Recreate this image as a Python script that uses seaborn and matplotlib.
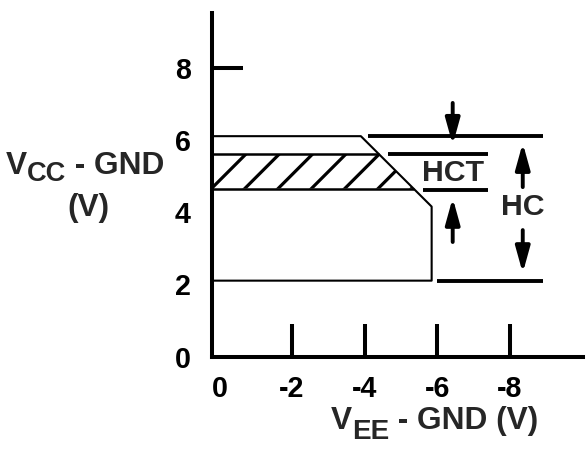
import numpy as np
import matplotlib
matplotlib.use("Agg")
import matplotlib.pyplot as plt
import seaborn as sns

# recommended operating area, V_EE - GND vs V_CC - GND
hc_vee = [0.21, -3.9, -5.85, -5.85, 0.21]
hc_vcc = [6.1, 6.1, 4.15, 2.1, 2.1]
hct_vcc = [5.6, 4.65]  # top / bottom of the hatched HCT band

# dimension lines on the right
hc_dim_vcc = [6.1, 2.1]
hc_dim_start = [-4.09, -6.0]
hc_dim_end = -8.92
hct_dim_vcc = [5.6, 4.6]
hct_dim_start = [-4.65, -5.61]
hct_dim_end = -7.4

# arrows: (x, y_tail, y_tip)
hct_arrows = [(-6.43, 7.02, 5.86), (-6.43, 3.17, 4.39)]
hc_arrows = [(-8.36, 4.69, 5.91), (-8.36, 3.5, 2.31)]

x_ticks = [0, -2, -4, -6, -8]
x_labels = ["0", "-2", "-4", "-6", "-8"]
y_ticks = [0, 2, 4, 6, 8]
y_labels = ["0", "2", "4", "6", "8"]

sns.set_theme(style="white")
plt.rcParams["font.family"] = ["Liberation Sans", "DejaVu Sans"]
plt.rcParams["font.weight"] = "bold"
plt.rcParams["hatch.linewidth"] = 1.15

DPI = 200
W, H = 588, 449
fs = 10.3
lfs = 11.4
fig = plt.figure(figsize=(W / DPI, H / DPI), dpi=DPI)
ax = fig.add_axes([211.7 / W, 92.5 / H, (583 - 211.7) / W, (356.5 - 13) / H])

x0 = hc_vee[0]
ax.set_xlim(x0, -10.02)
ax.set_ylim(0, 9.51)

# outline of the HC area
sns.lineplot(x=hc_vee, y=hc_vcc, sort=False, estimator=None, color="black",
             lw=0.75, ax=ax, legend=False)


def diag(v):
    return np.interp(v, [hc_vcc[2], hc_vcc[1]], [hc_vee[2], hc_vee[1]])


band = np.array(sorted(hct_vcc))
ax.fill_betweenx(band, x0, diag(band), facecolor="none", edgecolor="black",
                 hatch="//", linewidth=0)
ax.hlines(hct_vcc, x0, diag(np.array(hct_vcc)), color="black", lw=0.9)

# dimension lines
ax.hlines(hc_dim_vcc, hc_dim_start, hc_dim_end, color="black", lw=1.4)
ax.hlines(hct_dim_vcc, hct_dim_start, hct_dim_end, color="black", lw=1.4)
for x, y0, y1 in hct_arrows + hc_arrows:
    ax.annotate("", xy=(x, y1), xytext=(x, y0),
                arrowprops=dict(arrowstyle="-|>,head_length=0.65,head_width=0.18",
                                mutation_scale=12, lw=1.4, color="black",
                                shrinkA=0, shrinkB=0))

ax.text(-6.43, 5.08, "HCT", ha="center", va="center", fontsize=fs + 0.6, fontweight="bold")
ax.text(-8.36, 4.14, "HC", ha="center", va="center", fontsize=fs + 0.6, fontweight="bold")

# axes
sns.despine(ax=ax)
for s in ["left", "bottom"]:
    ax.spines[s].set_linewidth(1.45)
    ax.spines[s].set_color("black")

ax.set_xticks(x_ticks, x_labels)
ax.set_yticks(y_ticks, y_labels)
ax.set_xticks(x_ticks[1:], minor=True)
ax.set_yticks(y_ticks[-1:], minor=True)
ax.xaxis.remove_overlapping_locs = False
ax.yaxis.remove_overlapping_locs = False
ax.tick_params(axis="both", which="major", length=0, labelsize=fs, colors="black")
ax.tick_params(axis="x", which="major", pad=6.7)
ax.tick_params(axis="y", which="major", pad=7.5)
ax.tick_params(axis="x", which="minor", direction="in", length=11.9, width=1.45,
               color="black", bottom=True)
ax.tick_params(axis="y", which="minor", direction="in", length=11.3, width=1.45,
               color="black", left=True)
for lab in ax.get_xticklabels() + ax.get_yticklabels():
    lab.set_fontweight("bold")

renderer = fig.canvas.get_renderer()


def label(parts, left, base):
    # parts: (text, size, drop in px); placed left to right from pixel position
    x = left
    for txt, size, drop in parts:
        t = fig.text(x / W, (H - base - drop) / H, txt, ha="left", va="baseline",
                     fontsize=size, fontweight="bold")
        x += t.get_window_extent(renderer).width


label([("V", lfs, 0), ("CC", lfs * 0.86, 7), (" - GND", lfs, 0)], 6, 174)
fig.text(88 / W, (H - 216) / H, "(V)", ha="center", va="baseline",
         fontsize=lfs, fontweight="bold")
label([("V", lfs, 0), ("EE", lfs * 0.88, 10), (" - GND (V)", lfs, 0)], 331, 429)

fig.savefig("out.png", dpi=DPI)
